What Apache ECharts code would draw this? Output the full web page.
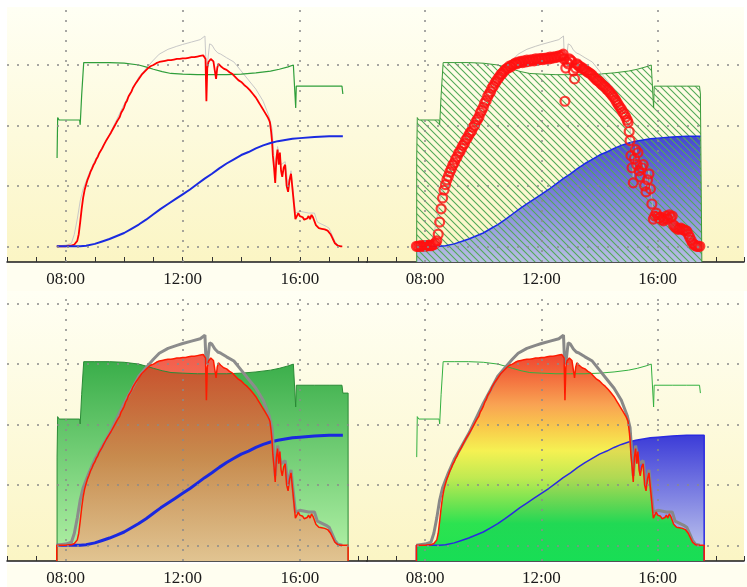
<!DOCTYPE html>
<html><head><meta charset="utf-8">
<script src="https://cdn.jsdelivr.net/npm/echarts@6/dist/echarts.min.js"></script>
<style>html,body{margin:0;padding:0;background:#fff}#c{width:747px;height:587px}</style>
</head><body><div id="c"></div>
<script>
// ---------- data (decimal hours, value) ----------
const labelHours = [8, 12, 16];
const gridHours = [8, 12, 16];
const gridLevels = [0, 1, 2, 3, 4];

const redData = [[7.70,0.00],[7.75,0.00],[7.80,0.00],[7.85,0.01],[7.90,0.00],[7.95,0.01],[8.00,0.00],[8.05,0.01],[8.10,0.01],[8.15,0.02],[8.20,0.01],[8.25,0.02],[8.30,0.03],[8.35,0.05],[8.40,0.09],[8.45,0.20],[8.50,0.40],[8.55,0.62],[8.60,0.80],[8.65,0.93],[8.70,1.02],[8.75,1.10],[8.80,1.16],[8.85,1.23],[8.90,1.28],[8.95,1.34],[9.00,1.38],[9.05,1.44],[9.10,1.48],[9.15,1.54],[9.20,1.57],[9.25,1.62],[9.30,1.67],[9.35,1.70],[9.40,1.76],[9.45,1.79],[9.50,1.84],[9.55,1.88],[9.60,1.91],[9.65,1.97],[9.70,2.00],[9.75,2.06],[9.80,2.10],[9.85,2.14],[9.90,2.21],[9.95,2.25],[10.00,2.30],[10.05,2.37],[10.10,2.41],[10.15,2.48],[10.20,2.52],[10.25,2.56],[10.30,2.62],[10.35,2.65],[10.40,2.70],[10.45,2.73],[10.50,2.77],[10.55,2.80],[10.60,2.84],[10.65,2.86],[10.70,2.89],[10.75,2.92],[10.80,2.94],[10.85,2.95],[10.90,2.98],[10.95,2.97],[11.00,3.00],[11.05,3.01],[11.10,3.03],[11.15,3.02],[11.20,3.05],[11.25,3.04],[11.30,3.06],[11.35,3.04],[11.40,3.07],[11.45,3.05],[11.50,3.08],[11.55,3.06],[11.60,3.08],[11.65,3.07],[11.70,3.09],[11.75,3.07],[11.80,3.10],[11.85,3.08],[11.90,3.10],[11.95,3.09],[12.00,3.11],[12.05,3.09],[12.10,3.11],[12.15,3.10],[12.20,3.12],[12.25,3.10],[12.30,3.13],[12.35,3.11],[12.40,3.13],[12.45,3.12],[12.50,3.14],[12.55,3.13],[12.60,3.15],[12.65,3.14],[12.70,3.16],[12.75,3.18],[12.78,3.10],[12.81,2.40],[12.84,2.95],[12.88,3.05],[12.92,3.02],[12.96,3.10],[13.00,3.08],[13.05,3.06],[13.10,2.90],[13.14,2.77],[13.18,2.95],[13.22,3.02],[13.25,3.00],[13.30,2.98],[13.35,2.97],[13.40,2.94],[13.45,2.94],[13.50,2.92],[13.55,2.90],[13.60,2.88],[13.65,2.87],[13.70,2.85],[13.75,2.83],[13.80,2.80],[13.85,2.78],[13.90,2.75],[13.95,2.74],[14.00,2.72],[14.05,2.69],[14.10,2.67],[14.15,2.65],[14.20,2.63],[14.25,2.60],[14.30,2.58],[14.35,2.55],[14.40,2.52],[14.45,2.49],[14.50,2.46],[14.55,2.42],[14.60,2.38],[14.65,2.34],[14.70,2.30],[14.75,2.27],[14.80,2.22],[14.85,2.19],[14.90,2.14],[14.95,2.09],[14.98,2.05],[15.02,1.90],[15.05,1.75],[15.08,1.50],[15.12,1.30],[15.16,1.05],[15.20,1.45],[15.24,1.60],[15.28,1.35],[15.32,1.55],[15.36,1.25],[15.40,1.15],[15.45,1.30],[15.50,1.35],[15.55,1.00],[15.60,0.90],[15.65,1.10],[15.70,1.20],[15.75,0.95],[15.80,0.70],[15.85,0.45],[15.90,0.50],[15.95,0.55],[16.00,0.50],[16.05,0.47],[16.10,0.48],[16.15,0.44],[16.20,0.42],[16.25,0.46],[16.30,0.50],[16.35,0.45],[16.40,0.52],[16.45,0.48],[16.50,0.50],[16.55,0.35],[16.60,0.32],[16.65,0.30],[16.70,0.28],[16.75,0.29],[16.80,0.30],[16.85,0.28],[16.90,0.27],[16.95,0.26],[17.00,0.25],[17.05,0.20],[17.10,0.15],[17.15,0.10],[17.20,0.05],[17.25,0.03],[17.30,0.01],[17.35,0.00],[17.40,0.00],[17.45,0.00]];

const grayData = [[7.70,0.00],[8.00,0.02],[8.20,0.05],[8.30,0.20],[8.40,0.45],[8.50,0.75],[8.60,0.95],[8.80,1.20],[9.00,1.42],[9.50,1.85],[10.00,2.35],[10.50,2.80],[10.80,2.97],[11.00,3.08],[11.20,3.18],[11.50,3.26],[11.80,3.31],[12.00,3.34],[12.30,3.38],[12.60,3.42],[12.76,3.48],[12.80,3.00],[12.85,3.05],[12.92,3.35],[13.00,3.33],[13.10,3.25],[13.20,3.20],[13.30,3.18],[13.50,3.12],[13.75,3.05],[14.00,2.90],[14.25,2.75],[14.50,2.60],[14.75,2.40],[14.95,2.15],[15.05,1.95],[15.10,1.60],[15.16,1.15],[15.24,1.65],[15.36,1.35],[15.50,1.40],[15.60,1.00],[15.70,1.25],[15.85,0.55],[16.00,0.58],[16.30,0.55],[16.50,0.55],[16.60,0.40],[16.90,0.33],[17.00,0.30],[17.20,0.08],[17.30,0.02],[17.45,0.00]];

const greenData = [[7.71,1.46],[7.73,2.13],[7.78,2.09],[8.48,2.09],[8.50,2.01],[8.55,2.50],[8.62,3.04],[9.00,3.04],[9.50,3.04],[10.00,3.03],[10.50,3.00],[10.80,2.96],[11.00,2.93],[11.30,2.89],[11.60,2.86],[12.00,2.85],[12.50,2.84],[13.00,2.84],[13.50,2.84],[14.00,2.85],[14.50,2.87],[15.00,2.90],[15.30,2.93],[15.60,2.97],[15.78,3.00],[15.84,2.97],[15.86,2.29],[15.88,2.65],[16.50,2.65],[17.00,2.65],[17.44,2.65],[17.47,2.52]];

const blueData = [[7.70,0.00],[8.00,0.00],[8.50,0.00],[8.70,0.01],[9.00,0.04],[9.25,0.08],[9.50,0.12],[9.75,0.17],[10.00,0.22],[10.25,0.29],[10.50,0.36],[10.75,0.44],[11.00,0.53],[11.25,0.62],[11.50,0.70],[11.75,0.78],[12.00,0.86],[12.25,0.94],[12.50,1.03],[12.75,1.12],[13.00,1.20],[13.25,1.29],[13.50,1.37],[13.75,1.44],[14.00,1.51],[14.25,1.56],[14.50,1.62],[14.75,1.67],[15.00,1.71],[15.25,1.74],[15.50,1.76],[15.75,1.78],[16.00,1.79],[16.50,1.81],[17.00,1.82],[17.47,1.82]];

// ---------- layout ----------
const ROWS = [{top:7, height:255, yMin:-0.26, yMax:3.96}, {top:291, height:272.5, yMin:-0.26, yMax:4.21}];
const COLS = [{left:7, width:360, xMin:6, xMax:18.295}, {left:367, width:380, xMin:6, xMax:18.97}];
// panel index: 0 TL, 1 TR, 2 BL, 3 BR
const panels = [[0,0],[0,1],[1,0],[1,1]];
const closeAt = [null, 17.52, 17.65, 17.6];

function lg(stops){return {type:'linear',x:0,y:0,x2:0,y2:1,colorStops:stops.map(s=>({offset:s[0],color:s[1]}))};}

const grids=[], xAxes=[], yAxes=[];
panels.forEach(([r,c],i)=>{
  const R=ROWS[r], C=COLS[c];
  grids.push({left:C.left, top:R.top, width:C.width, height:R.height, show:true, borderWidth:0,
    backgroundColor: lg([[0,'#fffff4'],[1,'#fbf5c4']])});
  xAxes.push({type:'value', gridIndex:i, min:C.xMin, max:C.xMax, interval:1,
    axisLine:{onZero:false, lineStyle:{color:'#1a1a1a', width:1.5}},
    axisTick:{inside:true, length:5, lineStyle:{color:'#333', width:1}},
    axisLabel:{margin:9, fontFamily:'Liberation Serif', fontSize:17, color:'#1a1a1a',
      formatter:v=> labelHours.includes(v) ? String(v).padStart(2,'0')+':00' : ''},
    splitLine:{show:false}});
  yAxes.push({type:'value', gridIndex:i, min:R.yMin, max:R.yMax, show:false});
});

function closed(data, i){
  const ymin = ROWS[panels[i][0]].yMin, x1 = closeAt[i];
  return [[data[0][0], ymin], ...data, [x1, data[data.length-1][1]], [x1, ymin]];
}
function line(i, data, color, width, extra){
  return Object.assign({type:'line', xAxisIndex:i, yAxisIndex:i, data, symbol:'none', showSymbol:false,
    lineStyle:{color, width}, animation:false, silent:true, z:2}, extra||{});
}

// hatch pattern
const pc = document.createElement('canvas'); const S=7; pc.width=S; pc.height=S;
const ctx = pc.getContext('2d'); ctx.strokeStyle='#52aa58'; ctx.lineWidth=1.1;
ctx.beginPath(); ctx.moveTo(-1,-1); ctx.lineTo(S+1,S+1); ctx.moveTo(-1,S-1); ctx.lineTo(1,S+1); ctx.moveTo(S-1,-1); ctx.lineTo(S+1,1); ctx.stroke();

const series=[];
// gridlines
panels.forEach(([r,c],i)=>{
  const R=ROWS[r];
  series.push({type:'line', xAxisIndex:i, yAxisIndex:i, data:[], z:1, silent:true, animation:false,
    markLine:{silent:true, animation:false, symbol:['none','none'], label:{show:false},
      lineStyle:{color:'#8a8a8a', type:[2,8], width:1.5},
      data:[...gridLevels.filter(v=>v<=R.yMax).map(v=>({yAxis:v})), ...gridHours.map(h=>({xAxis:h}))]}});
});

// TL
series.push(line(0, grayData, '#c8c8c8', 1));
series.push(line(0, greenData, '#2f9e3a', 1.2));
series.push(line(0, redData, '#ff0000', 1.8));
series.push(line(0, blueData, '#1a2ae0', 2));

// TR
series.push(line(1, closed(blueData,1), 'rgba(0,0,0,0)', 0, {areaStyle:{origin:'start', color: lg([[0,'#4646d2'],[1,'#b8bfe2']]), opacity:1}}));
series.push(line(1, closed(greenData,1), '#3a9a3a', 1, {areaStyle:{origin:'start', color:{image:pc, repeat:'repeat'}, opacity:1}}));
series.push(line(1, blueData, '#1a2ae8', 1.5));
series.push(line(1, grayData, '#b8b8b8', 0.8));
series.push({type:'scatter', xAxisIndex:1, yAxisIndex:1, data:redData, symbol:'circle', symbolSize:9, animation:false, silent:true, z:2,
  itemStyle:{color:'rgba(0,0,0,0)', borderColor:'#ff1010', borderWidth:2.2}});

// BL
series.push(line(2, closed(greenData,2), '#2a8a36', 1, {areaStyle:{origin:'start', color: lg([[0,'#3aae4a'],[1,'#b4f2a8']]), opacity:1}}));
series.push(line(2, blueData, '#1a28e0', 3));
series.push(line(2, grayData, '#8c8c8c', 3));
series.push(line(2, closed(redData,2), '#ff1a00', 1.5, {areaStyle:{origin:'start', color: lg([[0,'rgba(240,50,35,0.8)'],[0.5,'rgba(235,110,60,0.7)'],[1,'rgba(255,165,130,0.6)']]), opacity:1}}));

// BR
series.push(line(3, closed(blueData,3), '#2a2ae0', 1.5, {areaStyle:{origin:'start', color: lg([[0,'#3c3cd8'],[1,'#c8cfee']]), opacity:1}}));
series.push(line(3, greenData, '#33b040', 1));
series.push(line(3, grayData, '#888888', 3));
series.push(line(3, closed(redData,3), '#ff1a00', 1.5, {areaStyle:{origin:'start', opacity:0.88,
  color: lg([[0,'#f02818'],[0.08,'#f04a20'],[0.25,'#f89840'],[0.37,'#f8c838'],[0.47,'#f4f040'],[0.6,'#b8e840'],[0.74,'#50e040'],[0.82,'#10e040'],[1,'#00e040']])}}));

const chart = echarts.init(document.getElementById('c'), null, {renderer:'canvas'});
chart.setOption({
  backgroundColor:'#ffffff', animation:false,
  graphic:[
    {type:'rect', z:-10, silent:true, shape:{x:7,y:263,width:740,height:28}, style:{fill:'#fffef0'}},
    {type:'rect', z:-10, silent:true, shape:{x:7,y:564,width:740,height:23}, style:{fill:'#fffef0'}}
  ],
  grid:grids, xAxis:xAxes, yAxis:yAxes, series
});
</script></body></html>
